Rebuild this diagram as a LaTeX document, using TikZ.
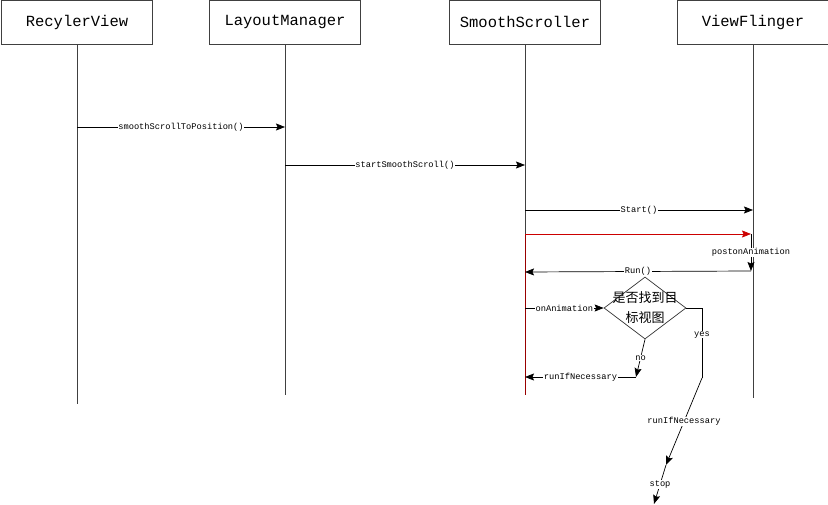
\documentclass[tikz,border=0pt]{standalone}
\usepackage{fontspec}
\setmonofont{Liberation Mono}
\newfontfamily\cjk{Noto Sans CJK SC}
\usetikzlibrary{shapes.geometric,arrows.meta}

\begin{document}
\begin{tikzpicture}[x=1pt, y=1pt,
    objbox/.style={draw=black!75, line width=0.8pt, minimum width=151pt,
      minimum height=44pt, inner sep=0pt,
      font=\ttfamily\fontsize{15.5}{16}\selectfont},
    life/.style={draw=black!75, line width=0.8pt},
    msg/.style={-{Stealth[length=9pt, width=7pt, inset=1.5pt]}, line width=0.7pt},
    lbl/.style={fill=white, inner sep=0.6pt,
      font=\ttfamily\fontsize{8.7}{9}\selectfont},
    decision/.style={diamond, draw=black!80, line width=0.7pt,
      minimum width=82pt, minimum height=62pt, inner sep=0pt}]

    \useasboundingbox (0,0) rectangle (828,-505);

    % Objetos
    \node[objbox] (rv) at (77,-22) {RecylerView};
    \node[objbox] (lm) at (285,-22) {LayoutManager};
    \node[objbox] (ss) at (525,-22) {SmoothScroller};
    \node[objbox] (vf) at (753,-22) {ViewFlinger};

    % Puntos de los mensajes
    \coordinate (rv1) at (77,-127);  \coordinate (lm1) at (285,-127);
    \coordinate (lm2) at (285,-165); \coordinate (ss2) at (525,-165);
    \coordinate (ss3) at (525,-210); \coordinate (vf3) at (753,-210);
    \coordinate (ss4) at (525,-234); \coordinate (vf4) at (751,-234);
    \coordinate (vf5) at (751,-271); \coordinate (ss5) at (525,-272);
    \coordinate (ss6) at (525,-308);
    \coordinate (no) at (636,-377);  \coordinate (ss7) at (525,-377);
    \coordinate (yes) at (702,-378);
    \coordinate (stop) at (666,-465);
    \coordinate (out) at (654,-504);

    % Lineas de vida
    \coordinate (rv-end) at (77,-404);
    \coordinate (lm-end) at (285,-395);
    \coordinate (ss-end) at (525,-395);
    \coordinate (vf-end) at (753,-398);
    \draw[life] (rv) -- (rv-end);
    \draw[life] (lm) -- (lm-end);
    \draw[life] (ss) -- (ss4);
    \draw[life, draw=red!60!black] (ss4) -- (ss-end);
    \draw[life] (vf) -- (vf-end);

    % Mensajes
    \draw[msg] (rv1) -- node[lbl] {smoothScrollToPosition()} (lm1);
    \draw[msg] (lm2) -- node[lbl] {startSmoothScroll()} (ss2);
    \draw[msg] (ss3) -- node[lbl] {Start()} (vf3);
    \draw[msg, red!80!black] (ss4) -- (vf4);
    \draw[msg] (vf4) -- node[lbl] {postonAnimation} (vf5);
    \draw[msg] (vf5) -- node[lbl] {Run()} (ss5);

    % Decision
    \node[decision, label={[font=\cjk\fontsize{13}{20}\selectfont,
      align=center]center:是否找到目\\标视图}] (chk) at (645,-308) {};
    \draw[msg] (ss6) -- node[lbl] {onAnimation} (chk);
    \draw[msg] (chk.south) -- node[lbl] {no} (no);
    \draw[msg] (no) -- node[lbl] {runIfNecessary} (ss7);
    \draw[line width=0.7pt] (chk.east) -| node[lbl, pos=0.69] {yes} (yes);
    \draw[msg] (yes) -- node[lbl] {runIfNecessary} (stop);
    \draw[msg] (stop) -- node[lbl] {stop} (out);

\end{tikzpicture}
\end{document}
